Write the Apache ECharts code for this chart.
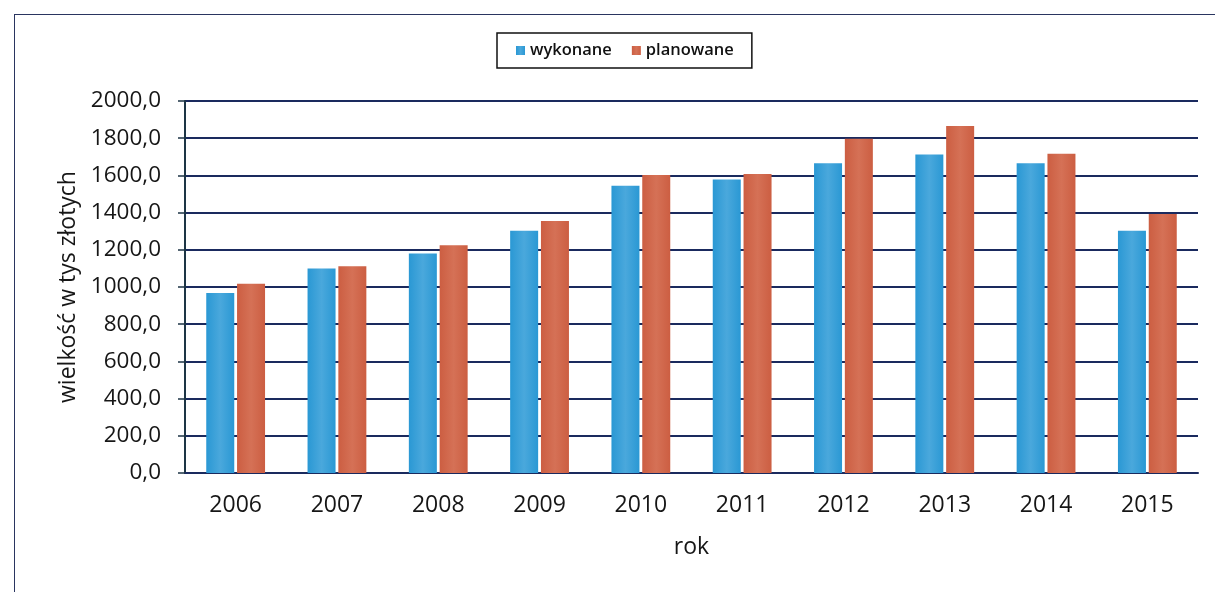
<!DOCTYPE html>
<html>
<head>
<meta charset="utf-8">
<script src="https://cdn.jsdelivr.net/npm/echarts@6/dist/echarts.min.js"></script>
<style>
  html, body { margin: 0; padding: 0; background: #fff; }
  #frame { position: absolute; left: 14px; top: 14px; width: 1230px; height: 620px; border: 1.5px solid #2a3560; box-sizing: border-box; }
  #chart { position: absolute; left: 0; top: 0; width: 1215px; height: 592px; }
</style>
</head>
<body>
<div id="frame"></div>
<div id="chart"></div>
<script>
const years = ['2006', '2007', '2008', '2009', '2010', '2011', '2012', '2013', '2014', '2015'];
const wykonane = [968, 1100, 1180, 1302, 1545, 1578, 1665, 1712, 1665, 1303];
const planowane = [1018, 1112, 1225, 1355, 1602, 1608, 1797, 1866, 1716, 1392];
const seriesNames = ['wykonane', 'planowane'];
const yTicks = { min: 0, max: 2000, interval: 200 };

const FONT = 'Open Sans';
const TXT = '#161616';
const chart = echarts.init(document.getElementById('chart'), null, { renderer: 'canvas' });

function grad(edge, mid) {
  return new echarts.graphic.LinearGradient(0, 0, 1, 0, [
    { offset: 0, color: edge },
    { offset: 0.5, color: mid },
    { offset: 1, color: edge }
  ]);
}

const option = {
  backgroundColor: 'transparent',
  animation: false,
  textStyle: { fontFamily: FONT, color: TXT },
  legend: {
    data: seriesNames,
    left: 497,
    top: 33,
    orient: 'horizontal',
    padding: [9, 18, 9, 19],
    itemGap: 20,
    itemWidth: 9,
    itemHeight: 9,
    borderColor: '#111',
    borderWidth: 1.5,
    icon: 'rect',
    textStyle: { fontFamily: FONT, fontSize: 16.5, fontWeight: 600, color: '#111' }
  },
  grid: { left: 185, right: 17, top: 101, bottom: 119, containLabel: false },
  xAxis: {
    type: 'category',
    data: years,
    name: 'rok',
    nameLocation: 'middle',
    nameGap: 63,
    nameTextStyle: { fontFamily: FONT, fontSize: 23, color: TXT },
    axisLine: { show: true, lineStyle: { color: '#1a2a5e', width: 2 } },
    axisTick: { show: false },
    axisLabel: { fontFamily: FONT, fontSize: 23, color: TXT, margin: 21 }
  },
  yAxis: {
    type: 'value',
    min: yTicks.min,
    max: yTicks.max,
    interval: yTicks.interval,
    name: 'wielkość w tys złotych',
    nameLocation: 'middle',
    nameGap: 102,
    nameTextStyle: { fontFamily: FONT, fontSize: 23, color: TXT },
    axisLine: { show: true, lineStyle: { color: '#1d3545', width: 2 } },
    axisTick: { show: true, length: 7, lineStyle: { color: '#1d3545', width: 1.5 } },
    axisLabel: {
      fontFamily: FONT, fontSize: 22.5, color: TXT, margin: 24,
      formatter: v => v.toFixed(1).replace('.', ',')
    },
    splitLine: { show: true, lineStyle: { color: '#1a2a5e', width: 2 } }
  },
  series: [
    {
      name: seriesNames[0],
      type: 'bar',
      data: wykonane,
      barWidth: 28,
      barGap: '10%',
      itemStyle: { color: grad('#2a98d4', '#4aa8dc') }
    },
    {
      name: seriesNames[1],
      type: 'bar',
      data: planowane,
      barWidth: 28,
      itemStyle: { color: grad('#cc5e42', '#d57156') }
    }
  ]
};
chart.setOption(option);
</script>
</body>
</html>
